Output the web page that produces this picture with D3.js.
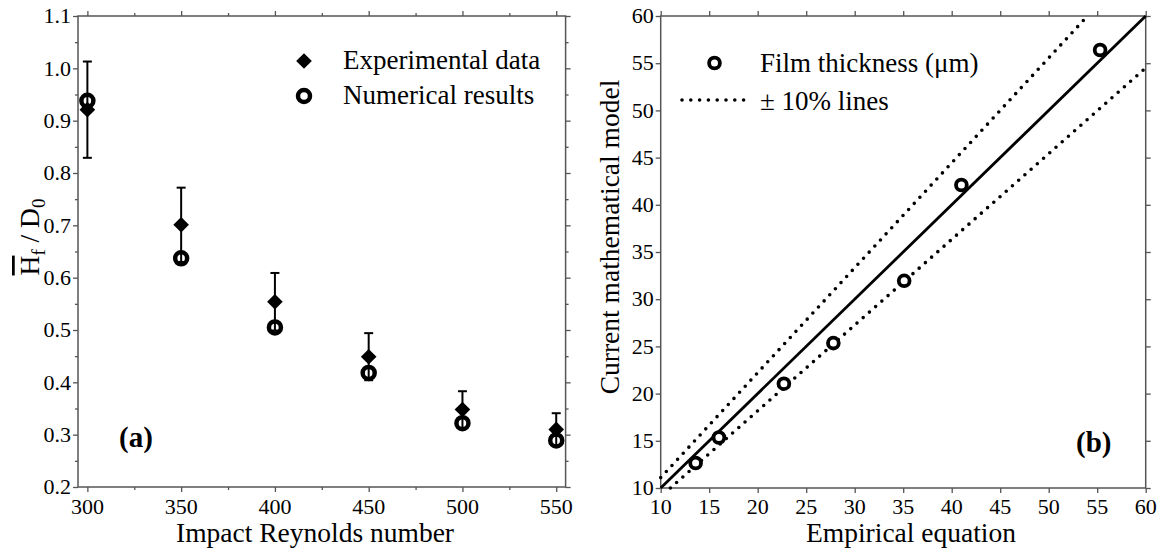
<!DOCTYPE html>
<html>
<head>
<meta charset="utf-8">
<script src="https://cdn.jsdelivr.net/npm/d3@7"></script>
<style>
body { margin: 0; background: #fff; }
</style>
</head>
<body>
<script>
// panel (a): film thickness vs impact Reynolds number
const reynolds = [300, 350, 400, 450, 500, 550];
const expData = [0.921, 0.701, 0.554, 0.449, 0.348, 0.310];
const expErr = [0.092, 0.071, 0.055, 0.045, 0.035, 0.031];
const numData = [0.938, 0.637, 0.505, 0.418, 0.322, 0.289];
const aTicksX = [300, 350, 400, 450, 500, 550];
const aMinorX = [325, 375, 425, 475, 525];
const aTicksY = [0.2, 0.3, 0.4, 0.5, 0.6, 0.7, 0.8, 0.9, 1.0, 1.1];
const aMinorY = [0.25, 0.35, 0.45, 0.55, 0.65, 0.75, 0.85, 0.95, 1.05];

// panel (b): model vs empirical equation
const empirical = [13.6, 16.0, 22.7, 27.8, 35.1, 41.0, 55.3];
const model = [12.65, 15.35, 21.05, 25.35, 31.95, 42.1, 56.4];
const equalLine = [[10, 10], [60, 60]];
const upperLine = [[10, 11.1], [54, 60]];
const lowerLine = [[11, 10], [60, 54.5]];
const bTicks = [10, 15, 20, 25, 30, 35, 40, 45, 50, 55, 60];

const width = 1163, height = 553;
const axisColor = "#555";
const serif = "Liberation Serif";
const tickBaseline = 514;

const svg = d3.select("body").append("svg")
    .attr("width", width)
    .attr("height", height)
    .style("font-family", serif);

// draws the 4 sided frame with outward ticks, labels written by hand in serif
function frame(x, y, xt, yt, xminor, yminor, fmtY) {
    const [x0, x1] = x.range();
    const [y0, y1] = y.range();
    const g = svg.append("g").attr("color", axisColor);

    g.append("g").attr("transform", `translate(0,${y0})`)
        .call(d3.axisBottom(x).tickValues(xt).tickSize(5).tickSizeOuter(0).tickFormat(""));
    g.append("g").attr("transform", `translate(${x0},0)`)
        .call(d3.axisLeft(y).tickValues(yt).tickSize(5).tickSizeOuter(0).tickFormat(""));
    g.append("g").attr("transform", `translate(0,${y1})`)
        .call(d3.axisTop(x).tickValues(xt).tickSize(5).tickSizeOuter(0).tickFormat(""));
    g.append("g").attr("transform", `translate(${x1},0)`)
        .call(d3.axisRight(y).tickValues(yt).tickSize(5).tickSizeOuter(0).tickFormat(""));

    if (xminor) {
        g.append("g").attr("transform", `translate(0,${y0})`)
            .call(d3.axisBottom(x).tickValues(xminor).tickSize(3).tickSizeOuter(0).tickFormat(""));
        g.append("g").attr("transform", `translate(0,${y1})`)
            .call(d3.axisTop(x).tickValues(xminor).tickSize(3).tickSizeOuter(0).tickFormat(""));
    }
    if (yminor) {
        g.append("g").attr("transform", `translate(${x0},0)`)
            .call(d3.axisLeft(y).tickValues(yminor).tickSize(3).tickSizeOuter(0).tickFormat(""));
        g.append("g").attr("transform", `translate(${x1},0)`)
            .call(d3.axisRight(y).tickValues(yminor).tickSize(3).tickSizeOuter(0).tickFormat(""));
    }
    g.selectAll(".domain").remove();
    g.selectAll("text").remove();
    g.selectAll(".tick line").attr("stroke-width", 1.3);

    g.append("rect")
        .attr("x", x0).attr("y", y1)
        .attr("width", x1 - x0).attr("height", y0 - y1)
        .attr("fill", "none")
        .attr("stroke", axisColor)
        .attr("stroke-width", 1.5);

    svg.append("g").selectAll("text")
        .data(xt)
        .enter().append("text")
        .attr("x", d => x(d))
        .attr("y", tickBaseline)
        .attr("text-anchor", "middle")
        .attr("font-size", 22)
        .text(d => d);

    svg.append("g").selectAll("text")
        .data(yt)
        .enter().append("text")
        .attr("x", x0 - 7)
        .attr("y", d => y(d))
        .attr("dy", "0.33em")
        .attr("text-anchor", "end")
        .attr("font-size", 22)
        .text(fmtY);
}

// ---------- panel (a) ----------
const xa = d3.scaleLinear().domain([295, 555]).range([78, 565.6]);
const ya = d3.scaleLinear().domain([0.2, 1.1]).range([487, 16]);

frame(xa, ya, aTicksX, aTicksY, aMinorX, aMinorY, d3.format(".1f"));

const pa = svg.append("g");

// error bars
reynolds.forEach((r, i) => {
    const cx = xa(r);
    const top = ya(expData[i] + expErr[i]);
    const bot = ya(expData[i] - expErr[i]);
    pa.append("line").attr("x1", cx).attr("x2", cx).attr("y1", top).attr("y2", bot)
        .attr("stroke", "#000").attr("stroke-width", 2);
    [top, bot].forEach(yy => {
        pa.append("line").attr("x1", cx - 4.5).attr("x2", cx + 4.5).attr("y1", yy).attr("y2", yy)
            .attr("stroke", "#000").attr("stroke-width", 2);
    });
});

const diamond = d3.symbol(d3.symbolSquare, 122);

pa.selectAll(".exp")
    .data(reynolds)
    .enter().append("path")
    .attr("class", "exp")
    .attr("d", diamond)
    .attr("transform", (d, i) => `translate(${xa(d)},${ya(expData[i])}) rotate(45)`)
    .attr("fill", "#000");

pa.selectAll(".num")
    .data(reynolds)
    .enter().append("circle")
    .attr("class", "num")
    .attr("cx", d => xa(d))
    .attr("cy", (d, i) => ya(numData[i]))
    .attr("r", 6)
    .attr("fill", "none")
    .attr("stroke", "#000")
    .attr("stroke-width", 4.5);

// legend (a)
svg.append("path").attr("d", diamond).attr("transform", "translate(304,61) rotate(45)").attr("fill", "#000");
svg.append("text").attr("x", 343).attr("y", 69).attr("font-size", 27).text("Experimental data");
svg.append("circle").attr("cx", 304).attr("cy", 96).attr("r", 6)
    .attr("fill", "none").attr("stroke", "#000").attr("stroke-width", 4.5);
svg.append("text").attr("x", 343).attr("y", 104).attr("font-size", 27).text("Numerical results");

svg.append("text").attr("x", 119).attr("y", 447).attr("font-size", 29).attr("font-weight", "bold").text("(a)");

// axis titles (a)
svg.append("text").attr("x", 315).attr("y", 542).attr("font-size", 27.5)
    .attr("text-anchor", "middle").text("Impact Reynolds number");

const ta = svg.append("text")
    .attr("transform", "translate(39,237) rotate(-90)")
    .attr("text-anchor", "middle")
    .attr("font-size", 27.5);
ta.append("tspan").style("text-decoration", "overline").text("H");
ta.append("tspan").attr("font-size", 19).attr("dy", 6).text("f");
ta.append("tspan").attr("dy", -6).text(" / D");
ta.append("tspan").attr("font-size", 19).attr("dy", 6).text("0");

// ---------- panel (b) ----------
const xb = d3.scaleLinear().domain([10, 60]).range([660.7, 1145.7]);
const yb = d3.scaleLinear().domain([10, 60]).range([488, 16]);

frame(xb, yb, bTicks, bTicks, null, null, d3.format("d"));

const line = d3.line().x(d => xb(d[0])).y(d => yb(d[1]));
const pb = svg.append("g");

pb.append("path").attr("d", line(equalLine))
    .attr("fill", "none").attr("stroke", "#000").attr("stroke-width", 2.8);

[upperLine, lowerLine].forEach(l => {
    pb.append("path").attr("d", line(l))
        .attr("fill", "none").attr("stroke", "#000").attr("stroke-width", 3.6)
        .attr("stroke-linecap", "round").attr("stroke-dasharray", "0 8.3");
});

pb.selectAll(".pt")
    .data(empirical)
    .enter().append("circle")
    .attr("class", "pt")
    .attr("cx", d => xb(d))
    .attr("cy", (d, i) => yb(model[i]))
    .attr("r", 5.4)
    .attr("fill", "#fff")
    .attr("stroke", "#000")
    .attr("stroke-width", 3.8);

// legend (b)
svg.append("circle").attr("cx", 714.5).attr("cy", 63).attr("r", 5.4)
    .attr("fill", "#fff").attr("stroke", "#000").attr("stroke-width", 3.8);
svg.append("text").attr("x", 760).attr("y", 72).attr("font-size", 27).text("Film thickness (\u03bcm)");
svg.append("line").attr("x1", 682).attr("x2", 744).attr("y1", 100).attr("y2", 100)
    .attr("stroke", "#000").attr("stroke-width", 3.6)
    .attr("stroke-linecap", "round").attr("stroke-dasharray", "0 8.8");
svg.append("text").attr("x", 760).attr("y", 110).attr("font-size", 27).text("\u00b1 10% lines");

svg.append("text").attr("x", 1076).attr("y", 452).attr("font-size", 29).attr("font-weight", "bold").text("(b)");

// axis titles (b)
svg.append("text").attr("x", 911).attr("y", 542).attr("font-size", 27.5)
    .attr("text-anchor", "middle").text("Empirical equation");
svg.append("text")
    .attr("transform", "translate(619,237) rotate(-90)")
    .attr("text-anchor", "middle")
    .attr("font-size", 27.5)
    .text("Current mathematical model");
</script>
</body>
</html>
